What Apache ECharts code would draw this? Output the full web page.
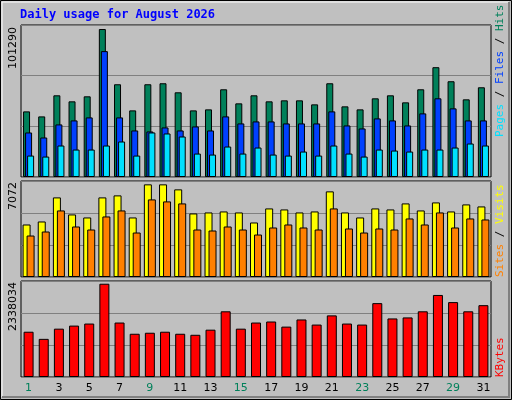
<!DOCTYPE html>
<html><head><meta charset="utf-8">
<script src="https://cdn.jsdelivr.net/npm/echarts@6/dist/echarts.min.js"></script>
<style>html,body{margin:0;padding:0;background:#c0c0c0}#c{width:512px;height:400px}</style>
</head><body><div id="c"></div>
<script>
const days = ['1','2','3','4','5','6','7','8','9','10','11','12','13','14','15','16','17','18','19','20','21','22','23','24','25','26','27','28','29','30','31'];
const weekend = ['1','2','8','9','15','16','22','23','29','30'];
const hits = [43728,40382,54436,50420,53767,98610,61799,44397,61799,62468,56444,44397,45066,58452,49082,54436,50420,51090,51090,48413,62468,47074,45066,52429,54436,49751,58452,73177,63807,51759,59791];
const files = [29672,26326,35027,37704,39712,83886,39712,31011,30342,33019,31011,33688,31011,40382,35696,37035,37035,35696,35696,35696,43728,34357,32350,39043,37704,34357,42389,52429,45736,37704,37704];
const pages = [14278,13609,20971,18294,18294,20971,23649,14278,29672,29003,26995,15617,14948,20302,15617,19633,14948,14278,16956,14278,20971,15617,13609,18294,17625,16956,18294,18294,19633,22310,20971];
const visits = [3868,4090,5864,4608,4386,5864,6012,4386,6825,6825,6456,4682,4756,4829,4756,4016,5051,4977,4756,4829,6308,4756,4386,5051,4977,5421,4903,5495,4829,5347,5199];
const sites = [3055,3351,4903,3721,3499,4460,4903,3277,5716,5569,5421,3499,3425,3721,3499,3129,3647,3868,3647,3499,5051,3573,3277,3573,3499,4312,3868,4756,3647,4312,4238];
const kbytes = [1102703,928592,1177322,1251941,1301687,2271734,1326560,1052957,1077830,1102703,1052957,1028084,1152449,1600163,1177322,1326560,1351433,1227068,1401179,1276814,1500671,1301687,1276814,1799147,1426052,1450925,1600163,1998131,1824020,1600163,1749401];
const maxHits = 101290, maxVisits = 7072, maxKB = 2338034;

const ch = echarts.init(document.getElementById('c'));
const grids = [{left:21,right:21,top:25,height:152},{left:21,right:21,top:181,height:96},{left:21,right:21,top:281,height:96}]
  .map(g=>Object.assign(g,{show:true,borderColor:'#000',borderWidth:1,backgroundColor:'#c0c0c0'}));
const xa = [0,1,2].map(i=>({type:'category',gridIndex:i,data:days,axisTick:{show:false},axisLine:{show:false},
  axisLabel:{show:i===2,margin:6,fontFamily:'DejaVu Sans',fontSize:11,
    color:(v)=>weekend.includes(v)?'#00805a':'#000'}}));
const ya = [maxHits,maxVisits,maxKB].map((m,i)=>({type:'value',gridIndex:i,min:0,max:m,interval:m/3,
  axisLabel:{show:false},axisLine:{show:false},axisTick:{show:false},splitLine:{lineStyle:{color:'#808080',width:1}}}));
const bs = (c)=>({color:c,borderColor:'#000',borderWidth:1});
const series = [
 {type:'bar',data:hits,xAxisIndex:0,yAxisIndex:0,barWidth:7,barGap:'-71%',itemStyle:bs('#00805a'),silent:true},
 {type:'bar',data:files,xAxisIndex:0,yAxisIndex:0,barWidth:7,barGap:'-71%',itemStyle:bs('#0040ff'),silent:true},
 {type:'bar',data:pages,xAxisIndex:0,yAxisIndex:0,barWidth:7,barGap:'-71%',itemStyle:bs('#00e0ff'),silent:true},
 {type:'bar',data:visits,xAxisIndex:1,yAxisIndex:1,barWidth:8,barGap:'-50%',itemStyle:bs('#ffff00'),silent:true},
 {type:'bar',data:sites,xAxisIndex:1,yAxisIndex:1,barWidth:8,barGap:'-50%',itemStyle:bs('#ff8000'),silent:true},
 {type:'bar',data:kbytes,xAxisIndex:2,yAxisIndex:2,barWidth:10,itemStyle:bs('#ff0000'),silent:true}
];
const mono = 'DejaVu Sans Mono';
const leftLabel = (t,y)=>({type:'text',x:8,y:y,rotation:Math.PI/2,style:{text:t,fill:'#000',font:'11px "DejaVu Sans"',align:'right',verticalAlign:'top'}});
const rightLabel = (rich,parts,y)=>({type:'text',x:494,y:y,rotation:Math.PI/2,
  style:{text:parts,rich:rich,font:'11px '+mono,align:'left',verticalAlign:'top'}});
ch.setOption({
 animation:false,
 grid:grids, xAxis:xa, yAxis:ya, series:series,
 graphic:[
  {type:'rect',shape:{x:0.5,y:0.5,width:511,height:399},style:{fill:'none',stroke:'#000',lineWidth:1}},
  {type:'polyline',shape:{points:[[2,397],[2,2],[509,2]]},style:{stroke:'#fff',lineWidth:1,fill:'none'}},
  {type:'polyline',shape:{points:[[509,2],[509,397],[2,397]]},style:{stroke:'#808080',lineWidth:2,fill:'none'}},
  {type:'text',x:20,y:9,style:{text:'Daily usage for August 2026',fill:'#0000ff',font:'bold 12px '+mono}},
  leftLabel('101290',27),
  leftLabel('7072',182),
  leftLabel('2338034',282),
  {type:'text',x:495,y:137,rotation:Math.PI/2,style:{text:'{p|Pages} / {f|Files} / {h|Hits}',font:'11px '+mono,fill:'#000',
    rich:{p:{fill:'#00e0ff',font:'11px '+mono},f:{fill:'#0040ff',font:'11px '+mono},h:{fill:'#00805a',font:'11px '+mono}}}},
  {type:'text',x:495,y:277,rotation:Math.PI/2,style:{text:'{s|Sites} / {v|Visits}',font:'11px '+mono,fill:'#000',
    rich:{s:{fill:'#ff8000',font:'11px '+mono},v:{fill:'#ffff00',font:'11px '+mono}}}},
  {type:'text',x:495,y:377,rotation:Math.PI/2,style:{text:'KBytes',fill:'#ff0000',font:'11px '+mono}}
 ]
});
</script></body></html>
